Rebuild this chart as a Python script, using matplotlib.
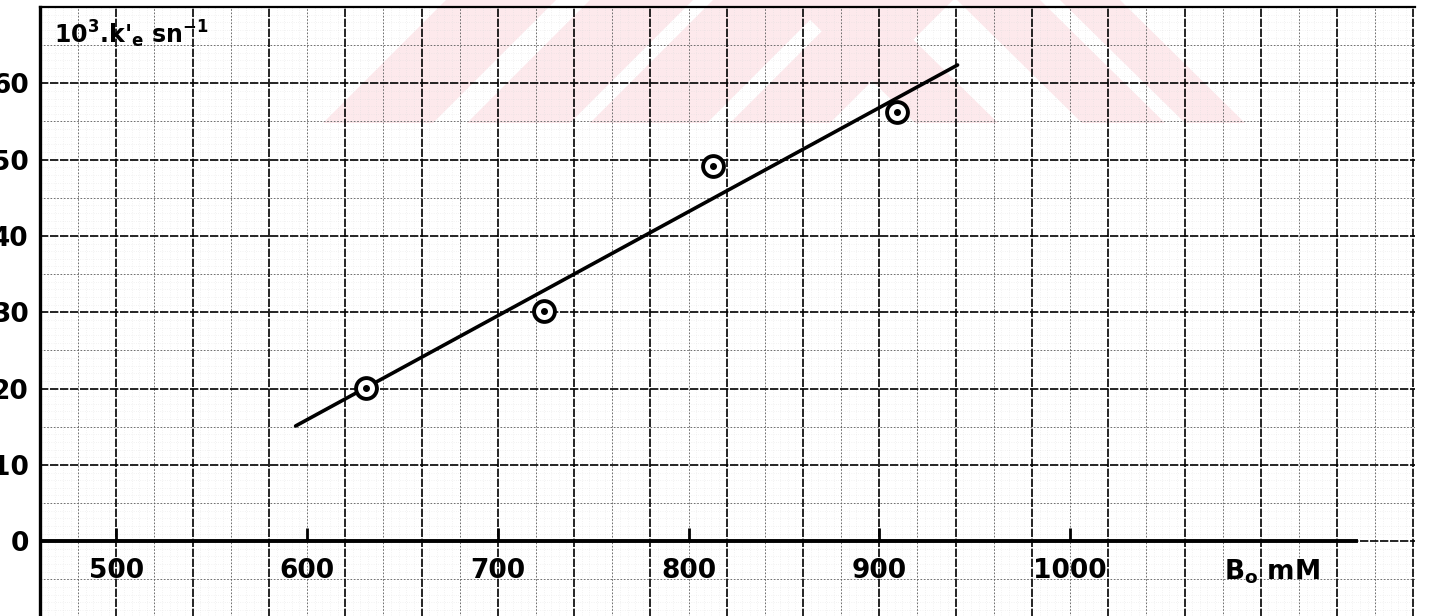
import numpy as np
import matplotlib
matplotlib.use('Agg')
import matplotlib.pyplot as plt
from matplotlib.patches import Polygon

# measured points (B0 in mM, 10^3 k'e in s^-1)
conc = [631, 724, 813, 909]
rate = [20.1, 30.2, 49.1, 56.2]

# drawn straight line (end points)
fit_x = [594, 941]
fit_y = [15.1, 62.4]

x_ticks = [500, 600, 700, 800, 900, 1000]
y_ticks = [0, 10, 20, 30, 40, 50, 60]

plt.rcParams['font.family'] = ['DejaVu Sans']
plt.rcParams['mathtext.default'] = 'bf'

W, H = 1430, 616
fig = plt.figure(figsize=(W / 100, H / 100), dpi=100)

# faint pink watermark of the scanned page (figure pixels)
def px(pts):
    return [(x / W, 1 - y / H) for x, y in pts]

wm_left = [(323, 433), (467, 570), (590, 707), (730, 830)]
for b0, b1 in wm_left:
    fig.patches.append(Polygon(px([(b0, 123), (b1, 123), (b1 + 123, 0), (b0 + 123, 0)]),
                               closed=True, transform=fig.transFigure,
                               facecolor='#fde9ec', edgecolor='none', zorder=-5))
wm_right = [(790, 873), (957, 1040), (1060, 1120)]
for t0, t1 in wm_right:
    fig.patches.append(Polygon(px([(t0, 0), (t1, 0), (t1 + 125, 123), (t0 + 125, 123)]),
                               closed=True, transform=fig.transFigure,
                               facecolor='#fde9ec', edgecolor='none', zorder=-5))

# graph paper is 1 cm = 40 mM = 10 units (square cells)
ax = fig.add_axes([40 / W, 0, 1375 / W, 609 / H])
ax.patch.set_alpha(0)
ax.set_zorder(1)
ax.set_xlim(460, 1180.8)
ax.set_ylim(-9.8, 70)

# graph paper: 1 mm, 5 mm and 1 cm lines
ax.vlines(np.arange(460, 1181, 4), -10, 71, color='0.85', lw=0.4, linestyles=(0, (1, 3)), zorder=0)
ax.hlines(np.arange(-10, 71, 1), 460, 1181, color='0.85', lw=0.4, linestyles=(0, (1, 3)), zorder=0)
ax.vlines(np.arange(480, 1181, 40), -10, 71, color='0.35', lw=0.6, linestyles=(0, (2, 2)), zorder=1)
ax.hlines(np.arange(-5, 71, 10), 460, 1181, color='0.35', lw=0.6, linestyles=(0, (2, 2)), zorder=1)
ax.vlines(np.arange(460, 1181, 40), -10, 71, color='black', lw=1.2, linestyles=(0, (5, 1)), zorder=1)
ax.hlines(np.arange(-10, 61, 10), 460, 1181, color='black', lw=1.2, linestyles=(0, (5, 1)), zorder=1)

for s in ['right', 'bottom']:
    ax.spines[s].set_visible(False)
ax.spines['left'].set_linewidth(2.4)
ax.spines['top'].set_linewidth(1.6)
ax.spines['top'].set_linestyle((0, (4, 1)))
ax.axhline(0, xmin=0, xmax=(1150 - 460) / (1180.8 - 460), color='black', lw=2.8, zorder=3)

ax.set_xticks(x_ticks)
ax.set_xticklabels([str(v) for v in x_ticks])
ax.set_yticks(y_ticks)
ax.set_yticklabels([str(v) for v in y_ticks])
ax.tick_params(axis='x', direction='in', length=0, pad=-42, labelsize=19)
ax.tick_params(axis='y', direction='out', length=0, pad=8, labelsize=19)
for lab in ax.get_xticklabels() + ax.get_yticklabels():
    lab.set_fontweight('bold')
ax.vlines(x_ticks, 0, 1.7, color='black', lw=2, zorder=3)

ax.plot(fit_x, fit_y, color='black', lw=2.6, solid_capstyle='round', zorder=4)
ax.plot(conc, rate, linestyle='none', marker='o', markersize=15, mfc='white',
        mec='black', mew=2.8, zorder=5)
ax.plot(conc, rate, linestyle='none', marker='o', markersize=4, color='black', zorder=6)

ax.text(467.5, 66.4, r"10$^{3}$.k$'_{e}$ sn$^{-1}$", fontsize=17, fontweight='bold',
        va='center', ha='left')
ax.text(1106, -4.0, r"B$_{o}$ mM", fontsize=19, fontweight='bold', va='center', ha='center')

fig.savefig('out.png', dpi=100)
